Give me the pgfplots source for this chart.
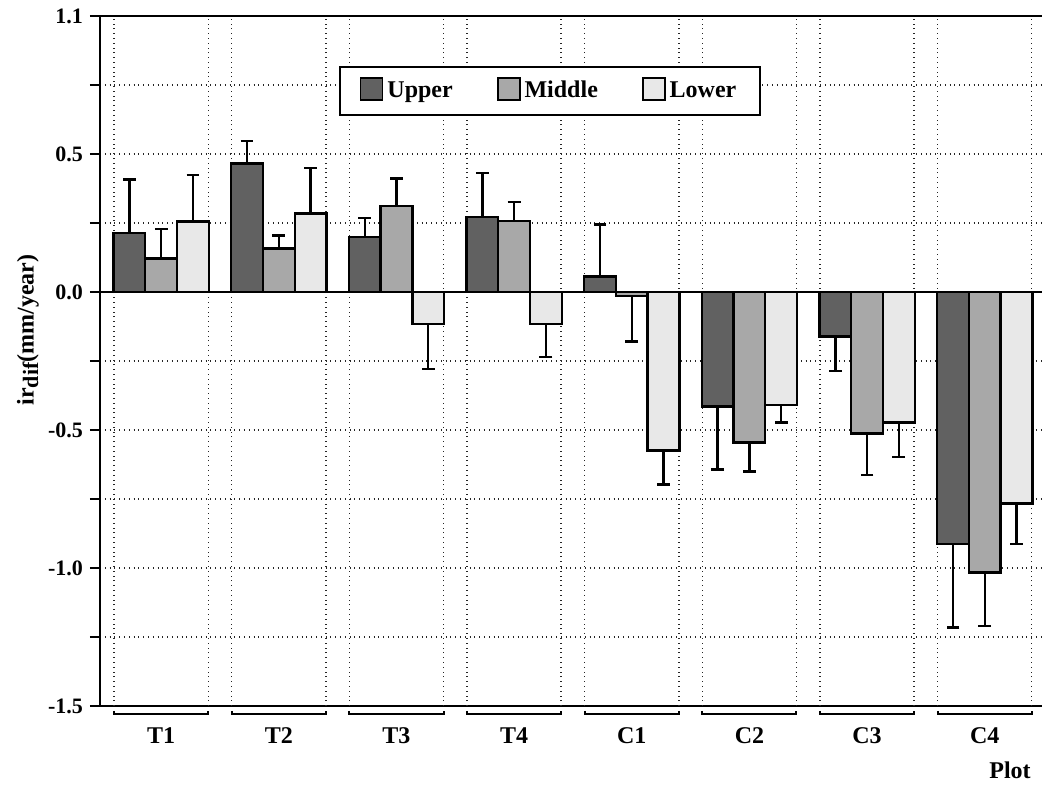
\documentclass[border=0pt]{standalone}
\usepackage{pgfplots}
\pgfplotsset{compat=1.18}
\usepackage{pgfplotstable}
\usepackage{fontspec}
\setmainfont{Liberation Serif}

% bar value, error up (ep), error down (em)
\pgfplotstableread{
x y ep em
0 0.213 0.195 0
1 0.465 0.082 0
2 0.200 0.069 0
3 0.272 0.159 0
4 0.056 0.189 0
5 -0.415 0 0.228
6 -0.161 0 0.125
7 -0.914 0 0.302
}\tabupper
\pgfplotstableread{
x y ep em
0 0.122 0.106 0
1 0.157 0.048 0
2 0.312 0.099 0
3 0.257 0.070 0
4 -0.015 0 0.165
5 -0.546 0 0.104
6 -0.513 0 0.150
7 -1.017 0 0.194
}\tabmiddle
\pgfplotstableread{
x y ep em
0 0.255 0.169 0
1 0.285 0.165 0
2 -0.117 0 0.161
3 -0.117 0 0.119
4 -0.574 0 0.123
5 -0.409 0 0.064
6 -0.473 0 0.124
7 -0.766 0 0.148
}\tablower

\definecolor{cup}{gray}{0.38}
\definecolor{cmid}{gray}{0.66}
\definecolor{clow}{gray}{0.91}

\begin{document}
\begin{tikzpicture}
\begin{axis}[
    scale only axis,
    width=471pt, height=345pt,
    xmin=-0.52, xmax=7.487,
    ymin=-1.5, ymax=1.0,
    clip=false,
    axis x line*=box,
    axis y line*=left,
    axis line style={line width=1pt},
    ybar, bar width=0.27,
    xtick={0,...,7},
    xticklabels={T1,T2,T3,T4,C1,C2,C3,C4},
    x tick style={draw=none},
    x tick label style={font=\fontsize{12}{14}\selectfont\bfseries, yshift=-2.5pt},
    extra x ticks={-0.4,0.4,0.6,1.4,1.6,2.4,2.6,3.4,3.6,4.4,4.6,5.4,5.6,6.4,6.6,7.4},
    extra x tick labels={},
    extra x tick style={grid=major},
    ytick={-1.5,-1,-0.5,0,0.5,1},
    yticklabels={-1.5,-1.0,-0.5,0.0,0.5,1.1},
    minor ytick={-1.25,-0.75,-0.25,0.25,0.75},
    ymajorgrids, yminorgrids,
    major grid style={dotted, line width=0.7pt, black!85},
    minor grid style={dotted, line width=0.7pt, black!85},
    tick align=outside,
    major tick length=5pt, minor tick length=5pt,
    y tick style={black, line width=0.9pt},
    y tick label style={font=\fontsize{11}{13}\selectfont\bfseries},
    legend style={at={(0.4777,0.9275)}, anchor=north, legend columns=3,
        draw=black, line width=1pt, inner xsep=10pt, inner ysep=5pt,
        font=\fontsize{12}{14}\selectfont\bfseries,
        /tikz/every even column/.append style={column sep=20pt}},
    legend image code/.code={\draw[#1, line width=0.9pt] (0pt,-4.6pt) rectangle (11pt,6.4pt);},
    error bars/y dir=both, error bars/y explicit,
    error bars/error bar style={line width=1.2pt, black},
    error bars/error mark options={rotate=90, mark size=3.2pt, line width=1.2pt, black},
]
\draw[line width=0.9pt] (axis cs:-0.52,0) -- (axis cs:7.487,0);

\addplot[fill=cup, draw=black, line width=1.2pt, bar shift=-0.27]
    table[x=x, y=y, y error plus=ep, y error minus=em] {\tabupper};
\addplot[fill=cmid, draw=black, line width=1.2pt, bar shift=0]
    table[x=x, y=y, y error plus=ep, y error minus=em] {\tabmiddle};
\addplot[fill=clow, draw=black, line width=1.2pt, bar shift=0.27]
    table[x=x, y=y, y error plus=ep, y error minus=em] {\tablower};
\legend{Upper, Middle, Lower}

% group brackets under the axis
\pgfplotsinvokeforeach{0,...,7}{
  \draw[line width=1pt] ([yshift=-2.5pt]axis cs:#1-0.4,-1.5) -- ([yshift=-4pt]axis cs:#1-0.4,-1.5)
      -- ([yshift=-4pt]axis cs:#1+0.4,-1.5) -- ([yshift=-2.5pt]axis cs:#1+0.4,-1.5);
}

\node[rotate=90, font=\fontsize{12}{14}\selectfont\bfseries]
    at ([xshift=-36pt]rel axis cs:0,0.545) {ir\raisebox{-0.4ex}{\fontsize{11}{13}\selectfont dif}(mm/year)};
\node[font=\fontsize{12}{14}\selectfont\bfseries]
    at ([xshift=-16pt,yshift=-32pt]rel axis cs:1,0) {Plot};

\coordinate (bl) at ([xshift=-50pt,yshift=-39.5pt]rel axis cs:0,0);
\coordinate (tr) at ([yshift=8pt]rel axis cs:1,1);
\end{axis}
\pgfresetboundingbox
\path[use as bounding box] (bl) rectangle (tr);
\end{tikzpicture}
\end{document}
